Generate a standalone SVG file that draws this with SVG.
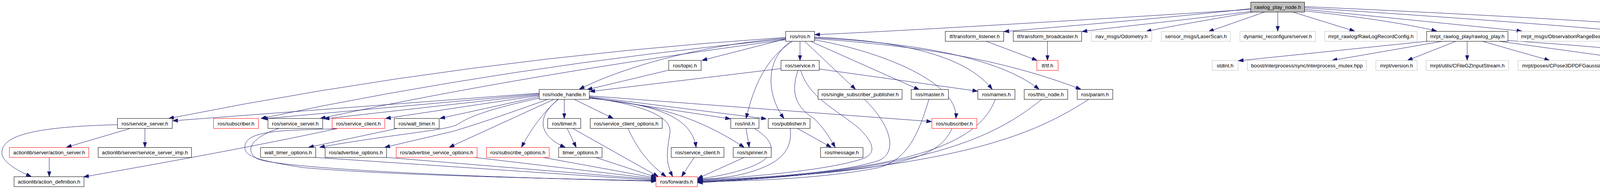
<svg xmlns="http://www.w3.org/2000/svg" width="4616" height="485" viewBox="0 0 4616 485" style="width:4616px;height:485px;display:block">
<style>
.n rect{fill:#fff;stroke:#000;stroke-width:1}
.n.r rect{stroke:#ff0000}
.n.g rect{stroke:#bfbfbf}
.n.root rect{fill:#bfbfbf;stroke:#000}
.n text{font-family:"Liberation Sans",Arial,Helvetica,sans-serif;font-size:13.33px;fill:#000;text-anchor:middle}
.e path{fill:none;stroke:#191970;stroke-width:1;marker-end:url(#ah)}
</style>
<defs>
<marker id="ah" markerUnits="userSpaceOnUse" viewBox="0 0 13.3 9.4" markerWidth="13.3" markerHeight="9.4" refX="13.3" refY="4.7" orient="auto">
<path d="M0,0 L13.3,4.7 L0,9.4 z" fill="#191970" stroke="#191970" stroke-width="1"/>
</marker>
</defs>
<rect width="4616" height="485" fill="#fff"/>
<g id="edges" class="e">
<path d="M3202,24 C2800,50 2300,80 2086,89"/>
<path d="M3202,22 C3000,45 2700,70 2570,81"/>
<path d="M3203,29 C3050,50 2850,70 2770,81"/>
<path d="M3207,31 C3100,50 2980,70 2934,81"/>
<path d="M3237,31 L3094,81"/>
<path d="M3271,31 L3271,80"/>
<path d="M3310,31 L3468,80"/>
<path d="M3340,28 C3500,45 3620,65 3678,80"/>
<path d="M3340,24 C3550,45 3800,70 3896,80"/>
<path d="M3340,20 C3650,40 4000,65 4163,81"/>
<path d="M3340,17 C3750,35 4200,60 4443,81"/>
<path d="M2525,106 L2655,155"/>
<path d="M2681.5,106 L2681.5,155"/>
<path d="M3652,106 L3170,156"/>
<path d="M3692,106 L3410,155"/>
<path d="M3727,106 L3603,155"/>
<path d="M3756,106 L3756,155"/>
<path d="M3795,106 L3967,155"/>
<path d="M3838,106 L4193,155"/>
<path d="M3860,104 C4100,120 4300,140 4424,156"/>
<path d="M2048,106 L2048,155"/>
<path d="M2060,106 L2190,229"/>
<path d="M2075,106 L2353,230"/>
<path d="M2085,95 C2300,105 2470,140 2540,229"/>
<path d="M2085,97 C2350,110 2560,150 2660,229"/>
<path d="M2085,99 C2350,118 2560,150 2767,229"/>
<path d="M2083,102 C2250,130 2455,210 2447,304"/>
<path d="M2025,106 C1960,150 1960,240 2007,304"/>
<path d="M2029,106 C1960,150 1930,220 1910,304"/>
<path d="M2011,100 L1797,155"/>
<path d="M2011,98 C1800,115 1600,170 1483,229"/>
<path d="M2011,96 Q1200,150 432,304"/>
<path d="M2011,100 Q1300,170 668,304"/>
<path d="M2011,102 Q1350,190 820,304"/>
<path d="M1712,180 L1503,230"/>
<path d="M1999,176 L1510,235"/>
<path d="M2097,177 L2503,234"/>
<path d="M2043,181 C2020,245 2045,280 2085,305 C2110,330 2125,355 2138,378"/>
<path d="M2050,181 C2070,250 2140,280 2200,330 C2250,380 2235,400 2200,410 C2100,440 1900,455 1786,462"/>
<path d="M2213,255 C2280,320 2300,390 2250,412 C2150,445 1950,455 1786,464"/>
<path d="M2378,255 C2350,350 2320,410 2250,430 C2100,460 1900,465 1786,466"/>
<path d="M2548,255 C2500,380 2300,440 1786,467"/>
<path d="M2667,255 C2560,340 2400,440 1786,468"/>
<path d="M2787,255 C2640,350 2450,430 1786,469"/>
<path d="M2437,330 C2400,410 2300,440 1786,465"/>
<path d="M2042,330 L2128,378"/>
<path d="M2023,330 C2030,390 1990,420 1925,440 C1880,455 1830,458 1786,461"/>
<path d="M1932,330 C2010,380 1990,430 1786,460"/>
<path d="M1910,330 L1918,378"/>
<path d="M1905,404 L1786,458"/>
<path d="M1777,404 L1745,453"/>
<path d="M1444.5,255 L1444.5,304"/>
<path d="M1430,255 C1370,300 1380,350 1447,378"/>
<path d="M1428,255 C1390,290 1360,330 1335,378"/>
<path d="M1418,255 L1150,378"/>
<path d="M1402,255 Q1250,310 1160,337 L985,378"/>
<path d="M1380,252 C1250,280 1200,300 1170,320 C1140,335 1000,345 818,378"/>
<path d="M1380,248 L1126,304"/>
<path d="M1380,245 L987,304"/>
<path d="M1380,243 L830,305"/>
<path d="M1380,241 L672,305"/>
<path d="M1380,239 L442,310"/>
<path d="M1470,255 L1570,304"/>
<path d="M1509,250 L1870,305"/>
<path d="M1509,248 L1962,305"/>
<path d="M1509,246 L2385,312"/>
<path d="M1509,252 C1700,270 1800,310 1905,378"/>
<path d="M1509,252 C1650,265 1770,290 1782,378"/>
<path d="M1509,250 C1650,270 1720,300 1715,340 C1710,380 1700,410 1722,453"/>
<path d="M1452,330 L1475,378"/>
<path d="M1467,330 L1685,453"/>
<path d="M1608,330 C1630,380 1660,420 1705,453"/>
<path d="M1525,404 L1680,455"/>
<path d="M1390,404 L1680,457"/>
<path d="M1215,404 L1680,459"/>
<path d="M990,404 L1680,461"/>
<path d="M808,404 L1680,463"/>
<path d="M1015,330 L790,378"/>
<path d="M863,330 C760,335 640,330 628,370 C620,400 650,410 775,430 C1000,450 1400,458 1680,464"/>
<path d="M713,330 C650,350 620,385 660,408 C700,425 1000,450 1680,465"/>
<path d="M863,330 C700,365 520,400 214,454"/>
<path d="M301,320 C100,325 0,345 5,395 C10,420 50,440 80,453"/>
<path d="M332,330 L170,378"/>
<path d="M371,330 L371,378"/>
<path d="M126,404 L126,453"/>
</g>
<g id="n0" class="n root"><rect x="3202" y="5.5" width="137.5" height="25.5"/><text x="3271" y="23">rawlog_play_node.h</text></g>
<g id="n_tl" class="n"><rect x="2420" y="80.5" width="149.5" height="25.5"/><text x="2495" y="98">tf/transform_listener.h</text></g>
<g id="n_tb" class="n"><rect x="2594" y="80.5" width="175" height="25.5"/><text x="2681.5" y="98">tf/transform_broadcaster.h</text></g>
<g id="n_odom" class="n g"><rect x="2793.5" y="80.5" width="155" height="25.5"/><text x="2871" y="98">nav_msgs/Odometry.h</text></g>
<g id="n_laser" class="n g"><rect x="2973" y="80.5" width="177" height="25.5"/><text x="3061.5" y="98">sensor_msgs/LaserScan.h</text></g>
<g id="n_dyn" class="n g"><rect x="3174.3" y="80.5" width="193.5" height="25.5"/><text x="3271" y="98">dynamic_reconfigure/server.h</text></g>
<g id="n_rlrc" class="n g"><rect x="3391.3" y="80.5" width="236.5" height="25.5"/><text x="3509.5" y="98">mrpt_rawlog/RawLogRecordConfig.h</text></g>
<g id="n_rp" class="n"><rect x="3652.3" y="80.5" width="208" height="25.5"/><text x="3756.3" y="98">mrpt_rawlog_play/rawlog_play.h</text></g>
<g id="n_orb" class="n g"><rect x="3885" y="80.5" width="254.5" height="25.5"/><text x="4012.3" y="98">mrpt_msgs/ObservationRangeBeacon.h</text></g>
<g id="n_orbe" class="n g"><rect x="4163.7" y="80.5" width="254.5" height="25.5"/><text x="4291" y="98">mrpt_msgs/ObservationRangeBearing.h</text></g>
<g id="n_cobs" class="n g"><rect x="4443" y="80.5" width="168.5" height="25.5"/><text x="4527.3" y="98">mrpt/obs/CObservation.h</text></g>
<g id="n_ros" class="n"><rect x="2011.3" y="80.5" width="74" height="25.5"/><text x="2048.3" y="98">ros/ros.h</text></g>
<g id="n_topic" class="n"><rect x="1712" y="155" width="83" height="25.5"/><text x="1753.5" y="172.5">ros/topic.h</text></g>
<g id="n_service" class="n"><rect x="1999.3" y="155" width="98" height="25.5"/><text x="2048.3" y="172.5">ros/service.h</text></g>
<g id="n_tf" class="n r"><rect x="2654.3" y="155" width="54.5" height="25.5"/><text x="2681.5" y="172.5">tf/tf.h</text></g>
<g id="n_stdint" class="n g"><rect x="3103.3" y="155" width="66" height="25.5"/><text x="3136.3" y="172.5">stdint.h</text></g>
<g id="n_boost" class="n g"><rect x="3193.3" y="155" width="304.7" height="25.5"/><text x="3345.7" y="172.5">boost/interprocess/sync/interprocess_mutex.hpp</text></g>
<g id="n_ver" class="n g"><rect x="3522.3" y="155" width="105.7" height="25.5"/><text x="3575.2" y="172.5">mrpt/version.h</text></g>
<g id="n_gz" class="n g"><rect x="3650.7" y="155" width="211.3" height="25.5"/><text x="3756.3" y="172.5">mrpt/utils/CFileGZInputStream.h</text></g>
<g id="n_pose" class="n g"><rect x="3886.3" y="155" width="241.7" height="25.5"/><text x="4007.2" y="172.5">mrpt/poses/CPose3DPDFGaussian.h</text></g>
<g id="n_carm" class="n g"><rect x="4152.3" y="155" width="248.3" height="25.5"/><text x="4276.5" y="172.5">mrpt/obs/CActionRobotMovement2D.h</text></g>
<g id="n_ios" class="n g"><rect x="4424.3" y="155" width="72.4" height="25.5"/><text x="4460.5" y="172.5">iostream</text></g>
<g id="n_nh" class="n"><rect x="1380.3" y="229.5" width="128.4" height="25.5"/><text x="1444.5" y="247">ros/node_handle.h</text></g>
<g id="n_ssp" class="n"><rect x="2094.3" y="229.5" width="215" height="25.5"/><text x="2201.8" y="247">ros/single_subscriber_publisher.h</text></g>
<g id="n_master" class="n"><rect x="2332.7" y="229.5" width="95.3" height="25.5"/><text x="2380.3" y="247">ros/master.h</text></g>
<g id="n_names" class="n"><rect x="2503.3" y="229.5" width="95" height="25.5"/><text x="2550.8" y="247">ros/names.h</text></g>
<g id="n_thisnode" class="n"><rect x="2622" y="229.5" width="111.3" height="25.5"/><text x="2677.7" y="247">ros/this_node.h</text></g>
<g id="n_param" class="n"><rect x="2757.7" y="229.5" width="91" height="25.5"/><text x="2803.2" y="247">ros/param.h</text></g>
<g id="n_ss1" class="n"><rect x="300.7" y="304" width="140.3" height="25.5"/><text x="370.8" y="321.5">ros/service_server.h</text></g>
<g id="n_sub1" class="n r"><rect x="546.7" y="304" width="115" height="25.5"/><text x="604.2" y="321.5">ros/subscriber.h</text></g>
<g id="n_ss2" class="n"><rect x="686" y="304" width="140" height="25.5"/><text x="756" y="321.5">ros/service_server.h</text></g>
<g id="n_sc1" class="n r"><rect x="850.3" y="304" width="134.7" height="25.5"/><text x="917.7" y="321.5">ros/service_client.h</text></g>
<g id="n_wt" class="n"><rect x="1009.3" y="304" width="115" height="25.5"/><text x="1066.8" y="321.5">ros/wall_timer.h</text></g>
<g id="n_timer" class="n"><rect x="1402" y="304" width="84.7" height="25.5"/><text x="1444.3" y="321.5">ros/timer.h</text></g>
<g id="n_sco" class="n"><rect x="1511" y="304" width="184.3" height="25.5"/><text x="1603.2" y="321.5">ros/service_client_options.h</text></g>
<g id="n_init" class="n"><rect x="1870.7" y="304" width="72.3" height="25.5"/><text x="1906.8" y="321.5">ros/init.h</text></g>
<g id="n_pub" class="n"><rect x="1966.7" y="304" width="107" height="25.5"/><text x="2020.2" y="321.5">ros/publisher.h</text></g>
<g id="n_sub2" class="n r"><rect x="2385.7" y="304" width="115" height="25.5"/><text x="2443.2" y="321.5">ros/subscriber.h</text></g>
<g id="n_as" class="n r"><rect x="24" y="378.5" width="203.3" height="25.5"/><text x="125.7" y="396">actionlib/server/action_server.h</text></g>
<g id="n_ssi" class="n"><rect x="251.3" y="378.5" width="239" height="25.5"/><text x="370.8" y="396">actionlib/server/service_server_imp.h</text></g>
<g id="n_wto" class="n"><rect x="667" y="378.5" width="141.3" height="25.5"/><text x="737.7" y="396">wall_timer_options.h</text></g>
<g id="n_ao" class="n"><rect x="832.3" y="378.5" width="157.4" height="25.5"/><text x="911" y="396">ros/advertise_options.h</text></g>
<g id="n_aso" class="n r"><rect x="1014.3" y="378.5" width="207" height="25.5"/><text x="1117.8" y="396">ros/advertise_service_options.h</text></g>
<g id="n_so" class="n r"><rect x="1245.3" y="378.5" width="160.7" height="25.5"/><text x="1325.7" y="396">ros/subscribe_options.h</text></g>
<g id="n_to" class="n"><rect x="1430" y="378.5" width="111.3" height="25.5"/><text x="1485.7" y="396">timer_options.h</text></g>
<g id="n_sc2" class="n"><rect x="1718.3" y="378.5" width="135" height="25.5"/><text x="1785.8" y="396">ros/service_client.h</text></g>
<g id="n_spin" class="n"><rect x="1877" y="378.5" width="97.3" height="25.5"/><text x="1925.7" y="396">ros/spinner.h</text></g>
<g id="n_msg" class="n"><rect x="2100.7" y="378.5" width="108.6" height="25.5"/><text x="2155" y="396">ros/message.h</text></g>
<g id="n_ad" class="n"><rect x="36" y="453.5" width="179" height="25.5"/><text x="125.5" y="471">actionlib/action_definition.h</text></g>
<g id="n_fwd" class="n r"><rect x="1679.3" y="453.5" width="106" height="25.5"/><text x="1732.3" y="471">ros/forwards.h</text></g>
</svg>
